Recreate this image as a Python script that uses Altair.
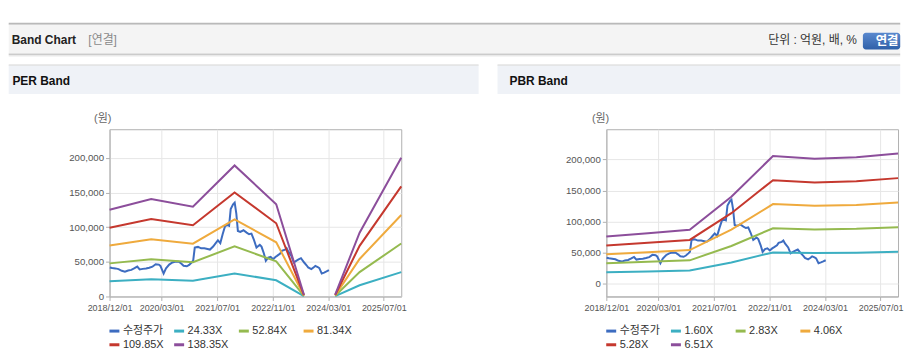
import altair as alt
import pandas as pd

FONT = "'Liberation Sans', Arial, 'Noto Sans CJK KR', sans-serif"

# ---------------- data ----------------
per_names = ["수정주가", "24.33X", "52.84X", "81.34X", "109.85X", "138.35X"]
pbr_names = ["수정주가", "1.60X", "2.83X", "4.06X", "5.28X", "6.51X"]
line_colors = ["#3d6cc0", "#3cafc2", "#95ba4f", "#efaa3d", "#c5382e", "#8c4e9b"]

price_dates = [
    "2018-12-03", "2018-12-24", "2019-01-21", "2019-02-18", "2019-03-18", "2019-04-15",
    "2019-05-13", "2019-06-10", "2019-07-08", "2019-08-01", "2019-08-22", "2019-09-19",
    "2019-10-17", "2019-11-14", "2019-12-12", "2020-01-09", "2020-02-06", "2020-02-20",
    "2020-03-19", "2020-04-09", "2020-05-07", "2020-06-04", "2020-07-02", "2020-07-30",
    "2020-08-20", "2020-09-10", "2020-10-08", "2020-10-29", "2020-11-19", "2020-12-03",
    "2020-12-17", "2021-01-14", "2021-02-11", "2021-03-11", "2021-04-08", "2021-04-29",
    "2021-05-27", "2021-06-17", "2021-07-08", "2021-07-29", "2021-08-19", "2021-09-09",
    "2021-09-30", "2021-10-14", "2021-10-28", "2021-11-18", "2021-12-02", "2021-12-16",
    "2021-12-30", "2022-01-20", "2022-02-17", "2022-03-17", "2022-04-07", "2022-04-28",
    "2022-05-18", "2022-06-11", "2022-07-10", "2022-07-25", "2022-08-15", "2022-09-01",
    "2022-09-22", "2022-10-13", "2022-11-03", "2022-11-24", "2022-12-08", "2023-01-05",
    "2023-01-19", "2023-02-16", "2023-03-02", "2023-03-16", "2023-04-13", "2023-05-04",
    "2023-05-25", "2023-06-15", "2023-07-06", "2023-08-03", "2023-08-24", "2023-09-07",
    "2023-10-05", "2023-10-26", "2023-11-09", "2023-11-30", "2023-12-14", "2024-01-04",
    "2024-01-25", "2024-02-15", "2024-03-07",
]
price_values = [
    41800, 41000, 40500, 39500, 37000, 35800,
    37500, 38400, 40800, 43200, 39000, 39800,
    40300, 41500, 43000, 46600, 46000, 44000,
    33100, 40500, 46000, 49000, 50400, 50000,
    47500, 44200, 43500, 45500, 49000, 51500,
    70500, 71500, 69500, 69600, 68500, 67700,
    72000, 76500, 81100, 77000, 90000, 101700,
    103000, 102000, 126000, 132900, 135300, 120000,
    94500, 93100, 95500, 92100, 89700, 90700,
    82500, 70500, 74500, 72000, 62000, 51400,
    56000, 57100, 53700, 57000, 58600, 62000,
    65800, 67500, 69600, 65000, 58600, 49000,
    51400, 53500, 55200, 49000, 45000, 41800,
    39400, 42000, 44200, 42500, 41000, 33100,
    34500, 36100, 37900,
]

per_dates = ["2018-12-01", "2019-12-01", "2020-12-01", "2021-12-01", "2022-12-01",
             "2023-08-01", "2024-05-01", "2024-12-01", "2025-12-01"]
per_segments = [1, 1, 1, 1, 1, 1, 2, 2, 2]
per_band_1 = [21980, 24710, 22780, 33240, 23390, 440, 490, 16180, 35170]
per_band_2 = [47740, 53660, 49460, 72180, 50800, 950, 1070, 35130, 76390]
per_band_3 = [73490, 82600, 76130, 111110, 78190, 1470, 1650, 54090, 117590]
per_band_4 = [99250, 111550, 102820, 150060, 105600, 1990, 2220, 73050, 158800]
per_band_5 = [125000, 140500, 129500, 189000, 133000, 2500, 2800, 92000, 200000]

pbr_dates = ["2018-12-01", "2019-12-01", "2020-12-01", "2021-12-01", "2022-12-01",
             "2023-12-01", "2024-12-01", "2025-12-01"]
pbr_segments = [1, 1, 1, 1, 1, 1, 1, 1]
pbr_band_1 = [18680, 20030, 21380, 34410, 50510, 49400, 50020, 51490]
pbr_band_2 = [33040, 35430, 37820, 60860, 89330, 87380, 88460, 91070]
pbr_band_3 = [47400, 50830, 54260, 87310, 128160, 125350, 126910, 130650]
pbr_band_4 = [61640, 66100, 70560, 113550, 166670, 163020, 165050, 169920]
pbr_band_5 = [76000, 81500, 87000, 140000, 205500, 201000, 203500, 209500]

tick_months = [(2018, 12), (2020, 3), (2021, 7), (2022, 11), (2024, 3), (2025, 7)]
y_ticks = [0, 50000, 100000, 150000, 200000]

# ---------------- tables ----------------
price_df = pd.DataFrame({"date": price_dates, "value": price_values,
                         "series": "수정주가", "seg": 0})


def band_table(dates, segs, names, bands):
    rows = []
    for name, vals in zip(names[1:], bands):
        for d, s, v in zip(dates, segs, vals):
            rows.append({"date": d, "value": v, "series": name, "seg": s})
    return pd.DataFrame(rows)


per_df = band_table(per_dates, per_segments, per_names,
                    [per_band_1, per_band_2, per_band_3, per_band_4, per_band_5])
pbr_df = band_table(pbr_dates, pbr_segments, pbr_names,
                    [pbr_band_1, pbr_band_2, pbr_band_3, pbr_band_4, pbr_band_5])

one = pd.DataFrame({"k": [0]})

PW, PH = 293, 168


def rect(x1, x2, y1, y2, color, **kw):
    return alt.Chart(one).mark_rect(color=color, **kw).encode(
        x=alt.value(x1), x2=alt.value(x2), y=alt.value(y1), y2=alt.value(y2))


def text(s, x, y, size, color, weight="normal", align="left"):
    return alt.Chart(one).mark_text(
        align=align, baseline="middle", font=FONT, fontSize=size,
        fontWeight=weight, color=color).encode(
        x=alt.value(x), y=alt.value(y), text=alt.value(s))


def x_enc():
    return alt.X(
        "date:T",
        scale=alt.Scale(type="utc", nice=False, domain=[
            alt.DateTime(year=2018, month=12, date=1, utc=True),
            alt.DateTime(year=2025, month=12, date=1, utc=True)]),
        axis=alt.Axis(
            values=[alt.DateTime(year=y, month=m, date=1, utc=True) for y, m in tick_months],
            labelExpr="utcFormat(datum.value, '%Y/%m/%d')",
            title=None, grid=True, labelFlush=False, labelOverlap=False,
            tickSize=4, labelPadding=3, labelFontSize=9, labelFont=FONT,
            labelColor="#555555", domainColor="#b0b0b0", tickColor="#b0b0b0",
            gridColor="#e6e6e6"))


def y_enc(domain):
    return alt.Y(
        "value:Q",
        scale=alt.Scale(domain=domain, nice=False, zero=False),
        axis=alt.Axis(
            values=y_ticks, format=",d", title=None, grid=True,
            tickSize=4, labelPadding=2, labelFontSize=9.7, labelFont=FONT,
            labelColor="#555555", domainColor="#b0b0b0", tickColor="#b0b0b0",
            gridColor="#e6e6e6"))


def color_enc(names):
    return alt.Color(
        "series:N", sort=names,
        scale=alt.Scale(domain=names, range=line_colors),
        legend=alt.Legend(
            orient="none", legendX=-1.6, legendY=196, direction="horizontal",
            columns=4, title=None, symbolType="stroke", symbolSize=100,
            symbolStrokeWidth=3, labelFontSize=11, labelFont=FONT,
            labelColor="#333333", columnPadding=4, rowPadding=1,
            gridAlign="all", padding=0, labelOffset=2))


def panel(bands, names, domain, decor):
    price = alt.Chart(price_df).mark_line(strokeWidth=2).encode(
        x=x_enc(), y=y_enc(domain), color=color_enc(names))
    lines = alt.Chart(bands).mark_line(strokeWidth=2).encode(
        x=x_enc(), y=y_enc(domain), color=color_enc(names), detail="seg:N")
    return alt.layer(*decor, price, lines).properties(width=PW, height=PH)


# page coords -> panel coords (plot origins at page (109.3,128) and (608.3,128))
LX, LY = 109.3, 128.0
RX = 608.3


def L(x):
    return x - LX


def T(y):
    return y - LY


def R(x):
    return x - RX


grad = {"gradient": "linear", "x1": 0, "y1": 0, "x2": 0, "y2": 1,
        "stops": [{"offset": 0, "color": "#5a89cf"}, {"offset": 1, "color": "#2f60a8"}]}

left_decor = [
    rect(L(8), L(903.5), T(21), T(23), "#b9b9b9"),
    rect(L(8), L(903.5), T(23), T(52), "#f4f4f4"),
    rect(L(8), L(903.5), T(52), T(53.5), "#cbcbcb"),
    rect(L(8), L(903.5), T(53.5), T(55), "#e9e9e9"),
    text("Band Chart", L(11), T(38), 12, "#222222", "bold"),
    text("[연결]", L(88), T(38), 12, "#8a8a8a"),
    text("단위 : 억원, 배, %", L(860), T(38.5), 12, "#333333", align="right"),
    alt.Chart(one).mark_rect(fill=grad, cornerRadius=3).encode(
        x=alt.value(L(866)), x2=alt.value(L(903.5)),
        y=alt.value(T(31)), y2=alt.value(T(48))),
    text("연결", L(890.3), T(39.5), 12.5, "#ffffff", "bold", align="center"),
    rect(L(8), L(480), T(63), T(64.3), "#d6d6d6"),
    rect(L(8), L(480), T(64.3), T(92.7), "#eff2f7"),
    text("PER Band", L(11.7), T(79.5), 12, "#111111", "bold"),
    text("(원)", L(102.5), T(118), 11, "#666666", align="center"),
]

right_decor = [
    rect(R(499), R(903.5), T(63), T(64.3), "#d6d6d6"),
    rect(R(499), R(903.5), T(64.3), T(92.7), "#eff2f7"),
    text("PBR Band", R(511), T(79.5), 12, "#111111", "bold"),
    text("(원)", R(602.5), T(118), 11, "#666666", align="center"),
]

per_panel = panel(per_df, per_names, [0, 241200], left_decor)
pbr_panel = panel(pbr_df, pbr_names, [-20300, 248500], right_decor)

chart = alt.hconcat(per_panel, pbr_panel, spacing=206, bounds="flush").resolve_scale(
    color="independent", x="independent", y="independent"
).properties(
    padding={"left": 0, "top": 13, "right": 0, "bottom": 0}
).configure_view(stroke="#b0b0b0", strokeWidth=1)

chart.save("out.html", embed_options={"renderer": "svg", "actions": False})
